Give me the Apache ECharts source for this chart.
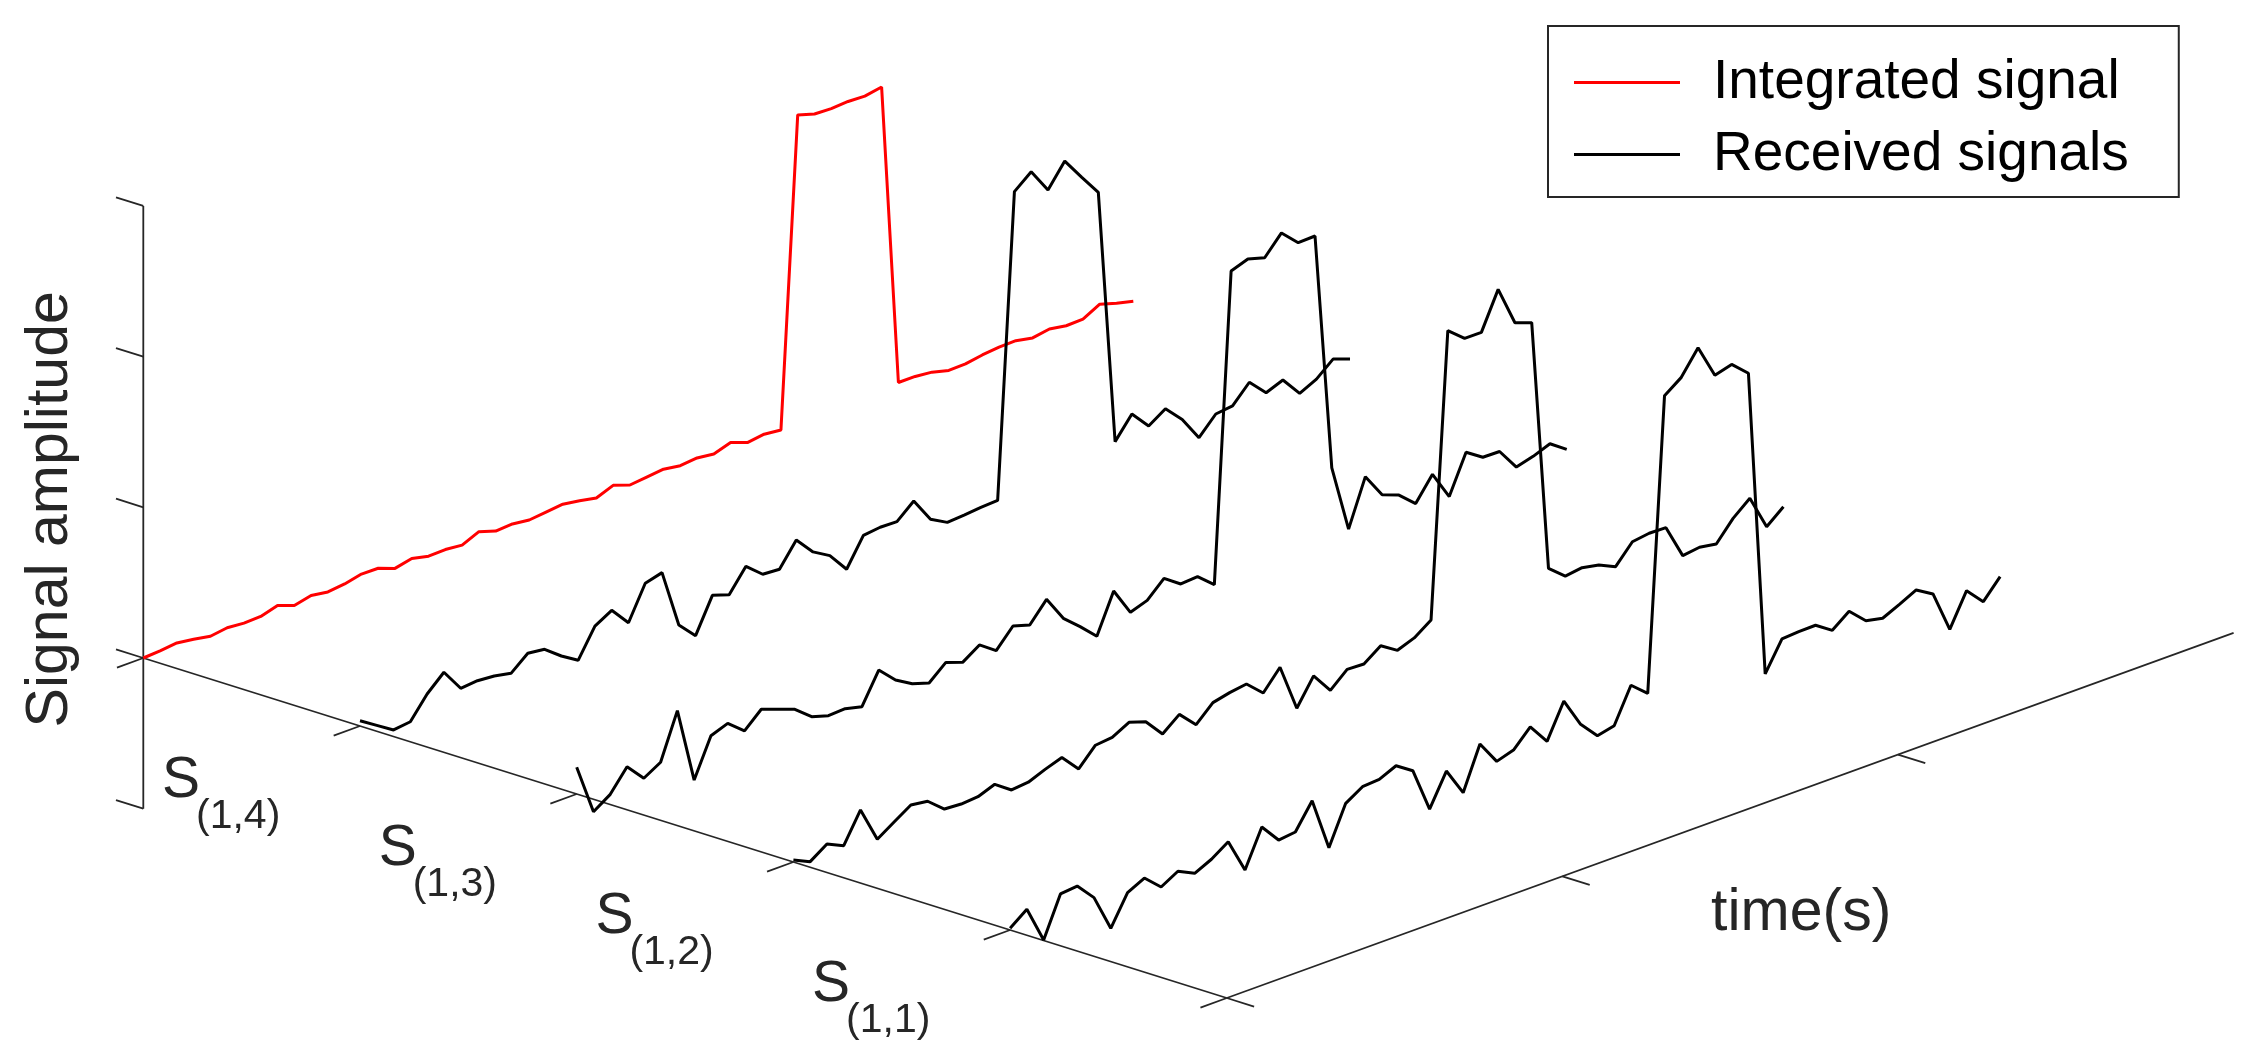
<!DOCTYPE html>
<html>
<head>
<meta charset="utf-8">
<title>Integrated signal vs received signals</title>
<script src="https://cdn.jsdelivr.net/npm/echarts@6/dist/echarts.min.js"></script>
<style>
    html, body { margin: 0; padding: 0; background: #ffffff; }
    #waterfall { width: 2250px; height: 1064px; }
</style>
</head>
<body>
<div id="waterfall"></div>
<script>
// amplitude per time sample (60 samples)
var integratedSignal = [
    0.000, 0.007, 0.019, 0.003, -0.017, -0.001, -0.011, -0.007, 0.026, -0.015,
    0.011, -0.006, 0.007, 0.032, 0.030, -0.011, 0.014, -0.011, -0.007, -0.018,
    0.031, -0.006, 0.001, -0.013, -0.001, 0.011, -0.006, -0.028, 0.015, -0.023,
    -0.011, 0.001, -0.016, -0.005, -0.019, 0.017, -0.024, -0.009, -0.021, 2.029,
    1.995, 1.990, 1.997, 1.992, 2.012, 0.011, 0.011, -0.001, -0.030, -0.027,
    -0.008, 0.004, 0.006, -0.016, 0.003, -0.016, -0.013, 0.046, 0.012, -0.015
]
var receivedS14 = [
    0.035, -0.036, -0.107, -0.093, 0.051, 0.155, 0.008, 0.018, 0.009, -0.014,
    0.079, 0.065, -0.020, -0.089, 0.098, 0.162, 0.039, 0.261, 0.291, -0.097,
    -0.208, 0.019, -0.017, 0.131, 0.038, 0.031, 0.185, 0.065, 0.000, -0.131,
    0.054, 0.067, 0.064, 0.161, -0.001, -0.062, -0.054, -0.043, -0.037, 1.971,
    2.063, 1.901, 2.053, 1.906, 1.765, 0.070, 0.213, 0.093, 0.167, 0.056,
    -0.106, 0.011, 0.024, 0.141, 0.031, 0.075, -0.054, 0.000, 0.094, 0.053
]
var receivedS13 = [
    0.177, -0.158, -0.083, 0.060, -0.057, 0.009, 0.311, -0.190, 0.064, 0.105,
    0.015, 0.118, 0.078, 0.037, -0.052, -0.086, -0.080, -0.107, 0.096, -0.011,
    -0.076, -0.111, -0.015, -0.055, 0.020, -0.058, 0.065, 0.031, 0.161, -0.005,
    -0.101, -0.205, 0.055, -0.127, -0.088, 0.018, -0.060, -0.052, -0.145, 1.896,
    1.935, 1.903, 2.027, 1.922, 1.926, 0.347, -0.100, 0.208, 0.048, 0.005,
    -0.092, 0.062, -0.126, 0.128, 0.054, 0.052, -0.092, -0.061, -0.018, -0.096
]
var receivedS12 = [
    0.013, -0.038, 0.039, -0.013, 0.184, -0.051, 0.023, 0.096, 0.080, -0.012,
    -0.019, -0.011, 0.031, -0.047, -0.036, 0.009, 0.048, -0.069, 0.048, 0.060,
    0.119, 0.083, -0.039, 0.051, -0.058, 0.048, 0.074, 0.091, -0.009, 0.121,
    -0.191, -0.017, -0.153, -0.054, -0.059, 0.022, -0.049, -0.007, 0.072, 1.951,
    1.860, 1.859, 2.104, 1.842, 1.802, 0.132, 0.040, 0.055, 0.033, -0.019,
    0.106, 0.122, 0.119, -0.107, -0.092, -0.111, 0.019, 0.112, -0.117, -0.025
]
var receivedS11 = [
    0.011, 0.097, -0.147, 0.118, 0.130, 0.013, -0.231, -0.035, 0.022, -0.078,
    -0.014, -0.068, -0.015, 0.061, -0.167, 0.078, -0.049, -0.036, 0.131, -0.221,
    0.033, 0.103, 0.111, 0.161, 0.088, -0.208, 0.005, -0.179, 0.104, -0.052,
    -0.017, 0.096, -0.040, 0.187, -0.008, -0.124, -0.098, 0.130, 0.036, 1.971,
    2.052, 2.208, 1.985, 2.017, 1.918, -0.118, 0.074, 0.082, 0.084, 0.010,
    0.096, -0.007, -0.031, 0.021, 0.076, 0.009, -0.266, -0.050, -0.163, -0.038
]

// depth axis: integrated signal at 0, channels at 1..4
var channelSubs = ['(1,4)', '(1,3)', '(1,2)', '(1,1)']
var zTicks = [-1, 0, 1, 2, 3]
var depthTicks = [0, 1, 2, 3, 4, 5]
var timeTicks = [0, 20, 40]
var TIME_MAX = 60
var DEPTH_MAX = 5

// fixed oblique view of the 3d box (plane units of the hidden grid)
var ORIGIN = [143.3, 658]
var STEP_T = [16.78, -6.085]   // one time sample
var STEP_S = [216.7, 68]       // one channel
var STEP_Z = [0, -150.7]       // one amplitude unit
var TICK_T = 1.57
var TICK_S = 0.126

var AXIS_COLOR = '#262626'
var FONT = '"Liberation Sans", Arial, Helvetica, sans-serif'

function project(t, s, z) {
    return [
        ORIGIN[0] + t * STEP_T[0] + s * STEP_S[0] + z * STEP_Z[0],
        ORIGIN[1] + t * STEP_T[1] + s * STEP_S[1] + z * STEP_Z[1]
    ]
}

function toLine(values, depth) {
    return values.map(function (v, k) { return project(k, depth, v) })
}

function signalSeries(name, values, depth, color) {
    return {
        name: name,
        type: 'line',
        data: toLine(values, depth),
        symbol: 'none',
        silent: true,
        z: 3,
        lineStyle: { color: color, width: 3 },
        itemStyle: { color: color }
    }
}

// box axes, ticks and labels drawn through the same projection
function renderAxes(params, api) {
    var children = []
    var pt = function (t, s, z) { return api.coord(project(t, s, z)) }
    var seg = function (a, b) {
        children.push({
            type: 'line',
            shape: { x1: a[0], y1: a[1], x2: b[0], y2: b[1] },
            style: { stroke: AXIS_COLOR, lineWidth: 1.8 }
        })
    }
    var text = function (str, p, size, align, rotation) {
        children.push({
            type: 'text',
            x: p[0], y: p[1],
            rotation: rotation || 0,
            style: {
                text: str, fill: AXIS_COLOR, fontSize: size, fontFamily: FONT,
                align: align, verticalAlign: 'middle'
            }
        })
    }

    // amplitude axis
    seg(pt(0, 0, zTicks[0]), pt(0, 0, zTicks[zTicks.length - 1]))
    zTicks.forEach(function (z) { seg(pt(0, 0, z), pt(0, -TICK_S, z)) })
    // channel axis
    seg(pt(0, 0, 0), pt(0, DEPTH_MAX, 0))
    depthTicks.forEach(function (s) { seg(pt(0, s, 0), pt(-TICK_T, s, 0)) })
    // time axis
    seg(pt(0, DEPTH_MAX, 0), pt(TIME_MAX, DEPTH_MAX, 0))
    timeTicks.forEach(function (t) { seg(pt(t, DEPTH_MAX, 0), pt(t, DEPTH_MAX + TICK_S, 0)) })

    // channel names S_(1,x)
    channelSubs.forEach(function (sub, i) {
        var p = pt(0, i + 1, 0)
        text('S', [p[0] - 179, p[1] + 55], 57, 'center')
        text(sub, [p[0] - 164, p[1] + 91], 41, 'left')
    })

    var tMid = pt(TIME_MAX / 2, DEPTH_MAX, 0)
    text('time(s)', [tMid[0] + 71, tMid[1] + 98], 59, 'center')
    var zMid = pt(0, 0, 1)
    text('Signal amplitude', [zMid[0] - 93, zMid[1] + 2], 59, 'center', Math.PI / 2)

    return { type: 'group', children: children }
}

var chart = echarts.init(document.getElementById('waterfall'))
chart.setOption({
    animation: false,
    backgroundColor: '#ffffff',
    grid: { left: 0, right: 0, top: 0, bottom: 0 },
    xAxis: { type: 'value', min: 0, max: 2250, show: false },
    yAxis: { type: 'value', min: 0, max: 1064, inverse: true, show: false },
    legend: {
        orient: 'vertical',
        left: 1548,
        top: 26,
        data: ['Integrated signal', 'Received signals'],
        selectedMode: false,
        icon: 'rect',
        itemWidth: 106,
        itemHeight: 3,
        itemGap: 17,
        padding: [29, 50, 15, 26],
        borderColor: AXIS_COLOR,
        borderWidth: 2,
        backgroundColor: '#ffffff',
        textStyle: { fontSize: 55, fontFamily: FONT, color: '#000000', padding: [0, 0, 0, 28] }
    },
    series: [
        {
            type: 'custom',
            coordinateSystem: 'cartesian2d',
            data: [[0, 0]],
            silent: true,
            z: 1,
            renderItem: renderAxes
        },
        signalSeries('Integrated signal', integratedSignal, 0, '#ff0000'),
        signalSeries('Received signals', receivedS14, 1, '#000000'),
        signalSeries('Received signals', receivedS13, 2, '#000000'),
        signalSeries('Received signals', receivedS12, 3, '#000000'),
        signalSeries('Received signals', receivedS11, 4, '#000000')
    ]
})
</script>
</body>
</html>
